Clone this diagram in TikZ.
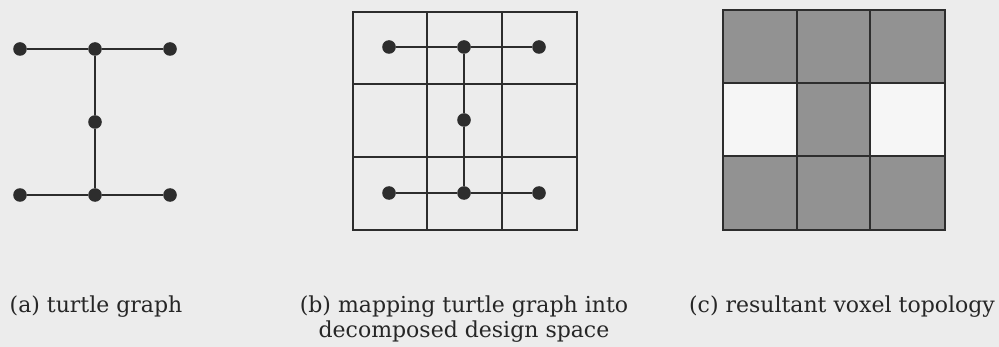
\documentclass[tikz,border=0pt]{standalone}
\usepackage{fontspec}
\setmainfont{DejaVu Serif}
\usetikzlibrary{positioning}
\definecolor{bg}{RGB}{236,236,236}
\definecolor{voxel}{RGB}{146,146,146}
\definecolor{empty}{RGB}{246,246,246}
\definecolor{ink}{RGB}{45,45,45}

\begin{document}
\begin{tikzpicture}[x=0.5pt, y=-0.5pt, font=\fontsize{11}{12.5}\selectfont,
                    dot/.style={circle, fill=ink, inner sep=0pt, minimum size=6.8pt},
                    edge/.style={line width=0.9pt, ink},
                    cell/.style={line width=1pt, ink},
                    caption/.style={align=center, inner sep=0pt, text=black!85, anchor=base}]
  \fill[bg] (0,0) rectangle (999,347);
  % turtle graphs (a) and (b)
  \foreach \p/\dx/\dy in {a/0/0, b/369/-2} {
    \node[dot] (\p TL) at (20+\dx,49+\dy) {};
    \node[dot] (\p TC) at (95+\dx,49+\dy) {};
    \node[dot] (\p TR) at (170+\dx,49+\dy) {};
    \node[dot] (\p M)  at (95+\dx,122+\dy) {};
    \node[dot] (\p BL) at (20+\dx,195+\dy) {};
    \node[dot] (\p BC) at (95+\dx,195+\dy) {};
    \node[dot] (\p BR) at (170+\dx,195+\dy) {};
    \draw[edge] (\p TL) -- (\p TC) -- (\p TR);
    \draw[edge] (\p TC) -- (\p M) -- (\p BC);
    \draw[edge] (\p BL) -- (\p BC) -- (\p BR);
  }
  % design space grid
  \draw[cell] (353,12) rectangle (577,230);
  \foreach \x in {427,502} \draw[cell] (\x,12) -- (\x,230);
  \foreach \y in {84,157} \draw[cell] (353,\y) -- (577,\y);
  % voxels
  \fill[voxel] (723,10) rectangle (945,83);
  \fill[voxel] (797,83) rectangle (870,156);
  \fill[voxel] (723,156) rectangle (945,230);
  \fill[empty] (723,83) rectangle (797,156);
  \fill[empty] (870,83) rectangle (945,156);
  \draw[cell] (723,10) rectangle (945,230);
  \foreach \x in {797,870} \draw[cell] (\x,10) -- (\x,230);
  \foreach \y in {83,156} \draw[cell] (723,\y) -- (945,\y);
  % captions
  \node[caption] (capa) at (96,312) {(a) turtle graph};
  \node[caption] (capb) at (464,337) {(b) mapping turtle graph into\\decomposed design space};
  \node[caption] (capc) at (842,312) {(c) resultant voxel topology};
\end{tikzpicture}
\end{document}
